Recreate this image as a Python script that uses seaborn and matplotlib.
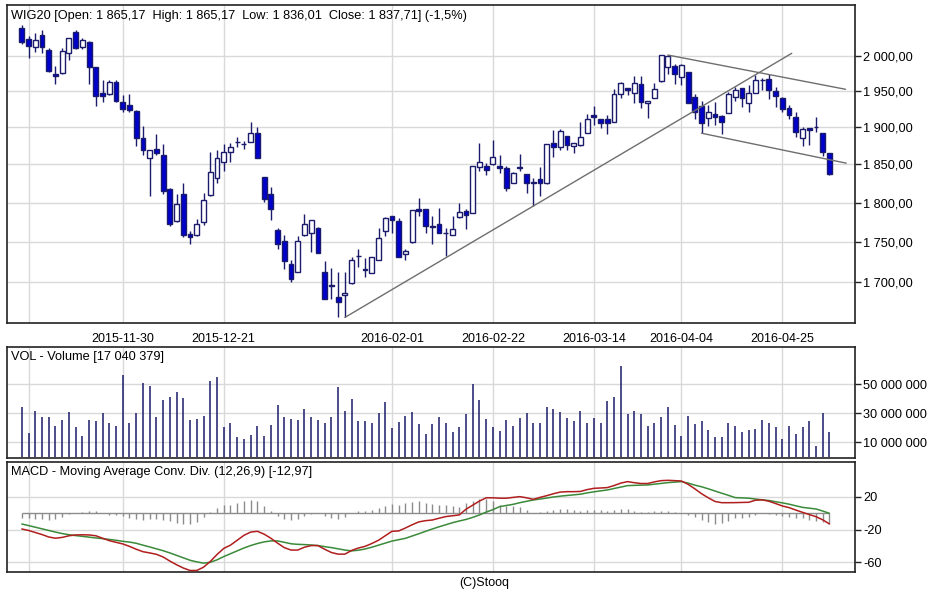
import numpy as np
import pandas as pd
import matplotlib
matplotlib.use("Agg")
import matplotlib.pyplot as plt
from matplotlib.ticker import FixedLocator, NullLocator, FuncFormatter
import seaborn as sns

# ---------------- data ----------------
opens = [2041.1, 2024.4, 2012.5, 2030.4, 2008.6, 1973.9, 1975.3, 2004.7, 2035.2, 2012.5,
         2019.7, 1983.8, 1947.5, 1946.5, 1963.4, 1935.3, 1930.8, 1922.9, 1885.2, 1859.1,
         1870.8, 1862.7, 1817.9, 1776.0, 1811.0, 1760.1, 1758.3, 1775.2, 1809.2, 1832.7,
         1853.8, 1867.1, 1879.5, 1877.5, 1880.0, 1892.0, 1833.2, 1811.4, 1764.6, 1750.8,
         1722.1, 1712.7, 1758.0, 1761.3, 1767.6, 1712.7, 1696.0, 1682.0, 1683.9, 1699.1,
         1731.8, 1716.0, 1711.1, 1727.3, 1763.3, 1782.3, 1776.8, 1734.4, 1749.6, 1791.7,
         1791.7, 1769.3, 1773.0, 1761.5, 1758.0, 1781.0, 1788.7, 1786.6, 1846.4, 1848.5,
         1850.4, 1848.5, 1845.9, 1826.1, 1845.5, 1837.5, 1826.5, 1830.6, 1825.4, 1878.4,
         1873.8, 1888.3, 1874.7, 1876.1, 1892.8, 1917.0, 1911.1, 1911.1, 1906.9, 1945.7,
         1954.1, 1947.9, 1960.2, 1934.0, 1940.1, 1963.7, 1984.7, 1986.1, 1970.5, 1977.5,
         1942.3, 1929.8, 1913.3, 1918.3, 1916.0, 1919.3, 1942.3, 1954.1, 1933.2, 1947.1,
         1965.5, 1967.2, 1950.3, 1940.1, 1926.2, 1914.6, 1885.2, 1899.6, 1900.5, 1892.0,
         1865.17]
highs = [2045.0, 2029.2, 2032.9, 2037.3, 2011.1, 1986.1, 2011.1, 2026.5, 2037.3, 2026.5,
         2021.6, 1984.7, 1965.4, 1965.4, 1965.4, 1944.7, 1946.1, 1923.9, 1902.3, 1869.4,
         1891.4, 1877.1, 1818.8, 1811.0, 1825.4, 1764.2, 1779.4, 1812.7, 1866.3, 1869.4,
         1877.1, 1878.4, 1887.3, 1881.9, 1907.8, 1900.1, 1833.2, 1820.9, 1767.6, 1758.0,
         1727.3, 1757.1, 1785.7, 1778.1, 1768.9, 1726.1, 1716.8, 1712.7, 1712.7, 1730.3,
         1740.5, 1729.1, 1731.0, 1767.6, 1781.5, 1782.3, 1780.3, 1741.4, 1790.8, 1805.9,
         1791.7, 1782.3, 1793.0, 1767.6, 1782.3, 1799.4, 1791.7, 1848.5, 1878.4, 1852.5,
         1882.9, 1862.7, 1848.1, 1840.6, 1864.1, 1837.5, 1831.9, 1847.2, 1877.1, 1896.4,
         1897.4, 1888.3, 1878.4, 1907.8, 1918.3, 1929.4, 1911.1, 1917.0, 1952.7, 1963.4,
         1954.1, 1971.4, 1971.4, 1936.7, 1961.1, 2001.4, 2001.4, 1988.1, 1988.1, 1977.5,
         1945.7, 1936.3, 1930.8, 1934.5, 1917.0, 1948.9, 1956.3, 1954.1, 1958.7, 1972.9,
         1969.0, 1973.9, 1956.3, 1942.3, 1930.8, 1921.5, 1900.9, 1899.6, 1914.6, 1892.4,
         1865.17]
lows = [2016.8, 1996.7, 2005.3, 2003.9, 1977.5, 1959.7, 1973.9, 1994.3, 2010.1, 2009.6,
        1959.7, 1929.8, 1934.5, 1944.7, 1934.5, 1920.7, 1920.7, 1875.2, 1862.7, 1807.9,
        1862.7, 1811.0, 1769.3, 1775.2, 1755.8, 1746.7, 1757.6, 1770.9, 1807.9, 1825.4,
        1841.5, 1853.8, 1873.8, 1870.8, 1880.0, 1859.1, 1800.2, 1777.2, 1740.5, 1716.0,
        1699.9, 1712.0, 1757.1, 1737.2, 1735.6, 1679.1, 1680.0, 1658.4, 1657.3, 1697.9,
        1718.1, 1706.7, 1710.8, 1727.3, 1757.1, 1761.3, 1730.3, 1727.3, 1748.8, 1783.2,
        1760.5, 1746.7, 1760.5, 1732.3, 1758.0, 1780.3, 1765.5, 1786.6, 1841.9, 1836.2,
        1849.4, 1838.5, 1814.4, 1825.4, 1841.9, 1812.3, 1796.0, 1807.9, 1824.0, 1859.7,
        1869.4, 1869.4, 1865.0, 1874.7, 1892.0, 1903.3, 1898.8, 1891.0, 1906.9, 1940.9,
        1944.7, 1934.0, 1926.2, 1912.4, 1940.1, 1963.4, 1974.3, 1959.7, 1958.7, 1933.6,
        1911.5, 1892.0, 1902.3, 1903.3, 1890.6, 1919.3, 1936.3, 1928.4, 1920.7, 1947.1,
        1951.7, 1939.1, 1928.4, 1921.5, 1911.5, 1887.3, 1875.2, 1876.1, 1893.3, 1861.4,
        1836.01]
closes = [2019.7, 2013.9, 2022.6, 2013.4, 1978.5, 1971.4, 2007.2, 2025.5, 2011.1, 2023.6,
          1983.8, 1943.7, 1943.7, 1963.4, 1936.7, 1925.2, 1923.4, 1886.0, 1869.4, 1869.0,
          1865.4, 1815.3, 1772.7, 1798.5, 1758.0, 1755.8, 1773.0, 1803.3, 1840.6, 1859.1,
          1866.3, 1873.4, 1880.0, 1877.0, 1892.8, 1859.1, 1804.6, 1792.1, 1746.7, 1726.1,
          1703.9, 1750.8, 1773.0, 1778.1, 1736.4, 1680.0, 1695.5, 1676.0, 1686.5, 1727.3,
          1732.3, 1714.4, 1730.3, 1755.1, 1780.3, 1778.1, 1731.5, 1738.4, 1789.9, 1788.7,
          1769.6, 1768.9, 1761.3, 1761.0, 1766.4, 1787.4, 1784.5, 1848.5, 1853.8, 1842.8,
          1859.7, 1845.1, 1818.8, 1839.3, 1846.0, 1825.4, 1826.0, 1825.4, 1877.1, 1873.8,
          1895.5, 1876.1, 1878.4, 1887.3, 1911.1, 1913.8, 1905.6, 1905.6, 1946.1, 1962.0,
          1951.7, 1962.0, 1935.3, 1936.7, 1952.7, 2001.4, 2000.4, 1973.6, 1987.1, 1933.6,
          1921.5, 1905.6, 1920.7, 1913.8, 1907.8, 1945.7, 1951.7, 1940.9, 1947.1, 1965.8,
          1966.0, 1951.7, 1943.7, 1925.2, 1917.0, 1893.3, 1897.8, 1896.4, 1901.0, 1866.5,
          1837.71]
# volume, millions of shares
volume_m = [34.6, 16.2, 31.8, 27.7, 27.7, 21.2, 25.4, 31.1, 20.3, 14.6,
            25.4, 24.5, 30.0, 23.5, 21.2, 56.4, 23.5, 30.4, 50.7, 48.8,
            27.7, 39.2, 41.5, 44.9, 40.8, 25.4, 26.1, 28.4, 52.5, 54.8,
            20.3, 23.5, 13.4, 12.3, 15.3, 21.2, 14.6, 21.9, 36.0, 27.7,
            26.1, 25.4, 32.7, 27.7, 25.4, 23.5, 27.7, 48.4, 31.8, 40.1,
            24.9, 24.9, 23.5, 30.4, 37.8, 19.6, 23.8, 28.4, 31.1, 22.6,
            15.7, 22.6, 27.7, 23.5, 17.3, 20.3, 29.5, 50.0, 39.2, 26.1,
            20.3, 18.0, 25.4, 21.2, 27.0, 30.0, 23.5, 23.5, 34.1, 32.7,
            31.1, 27.0, 24.7, 31.8, 23.1, 27.0, 23.5, 38.5, 41.5, 62.8,
            29.3, 31.8, 29.5, 21.2, 23.5, 27.7, 34.1, 21.9, 14.3, 28.1,
            22.6, 24.7, 18.5, 13.4, 13.4, 23.5, 21.2, 17.3, 18.5, 19.2,
            25.4, 23.5, 20.3, 12.3, 21.2, 15.5, 20.3, 24.7, 7.4, 30.4,
            17.040379]
macd = [-19.2, -21.0, -23.5, -26.0, -29.0, -30.5, -29.5, -27.5, -26.5, -26.3,
        -26.5, -27.5, -30.5, -33.5, -35.5, -37.5, -40.5, -44.0, -47.0, -48.5,
        -50.2, -53.5, -58.5, -63.0, -67.0, -70.0, -70.0, -66.0, -59.0, -50.5,
        -43.0, -39.0, -33.0, -27.0, -23.0, -22.0, -25.5, -30.5, -36.5, -42.0,
        -45.0, -45.0, -41.5, -39.5, -39.5, -44.0, -48.0, -50.0, -50.0, -45.5,
        -42.5, -40.5, -37.0, -33.0, -27.5, -22.0, -21.6, -18.0, -14.0, -10.5,
        -9.0, -8.2, -6.0, -4.0, -3.0, -2.0, 5.0, 10.0, 15.0, 19.0,
        19.0, 18.5, 18.5, 19.5, 20.4, 19.0, 17.1, 19.5, 21.6, 24.0,
        26.0, 26.5, 26.5, 26.8, 29.0, 30.6, 31.0, 31.5, 34.0, 37.0,
        38.8, 37.5, 36.5, 36.5, 38.5, 40.0, 40.4, 40.0, 39.6, 35.5,
        30.0, 24.0, 19.0, 14.5, 13.0, 13.0, 13.1, 13.3, 13.5, 16.0,
        16.5, 14.8, 12.0, 9.0, 7.0, 4.0, 1.2, -1.5, -4.1, -8.0,
        -12.97]
signal = [-13.1, -15.0, -17.0, -19.0, -21.0, -23.0, -24.8, -26.2, -27.3, -28.2,
          -29.2, -30.2, -31.0, -32.0, -33.0, -34.3, -35.2, -36.7, -39.0, -41.2,
          -43.5, -45.8, -48.5, -51.5, -54.5, -57.5, -59.5, -61.0, -60.0, -57.0,
          -53.0, -49.5, -46.0, -42.5, -39.5, -37.0, -35.0, -33.8, -33.8, -35.5,
          -37.3, -38.0, -38.3, -38.8, -39.5, -40.8, -42.0, -43.5, -45.0, -46.0,
          -45.2, -43.7, -41.5, -39.0, -36.5, -34.0, -32.3, -30.6, -27.8, -25.0,
          -22.0, -19.2, -16.5, -14.0, -11.5, -9.4, -7.5, -5.0, -2.0, 1.5,
          4.5, 8.2, 9.6, 11.0, 13.0, 14.7, 16.3, 17.5, 18.7, 20.0,
          21.0, 21.8, 22.6, 23.4, 25.0, 26.3, 27.5, 28.6, 30.4, 32.1,
          33.9, 34.2, 34.5, 34.7, 35.7, 36.6, 37.6, 38.2, 38.8, 37.0,
          34.5, 32.5, 30.0, 27.3, 24.6, 22.0, 19.2, 18.9, 18.5, 17.5,
          16.5, 15.7, 14.2, 12.8, 11.2, 9.2, 7.3, 6.3, 5.3, 2.8,
          0.0]
date_tick_pos = [1, 15, 30, 55, 70, 85, 98, 113]
date_tick_labels = ["", "2015-11-30", "2015-12-21", "2016-02-01", "2016-02-22",
                    "2016-03-14", "2016-04-04", "2016-04-25"]
price_ticks = [1700, 1750, 1800, 1850, 1900, 1950, 2000]
volume_ticks_m = [10, 30, 50]
macd_ticks = [-60, -20, 20]
# trend lines: (index, price) endpoints
trend_up = [(48, 1657.3), (114.4, 2003.9)]
channel_top = [(96, 2001.4), (122.4, 1952.7)]
channel_bottom = [(101, 1892.0), (122.5, 1851.7)]

# ---------------- style ----------------
sns.set_theme(style="white")
plt.rcParams["font.family"] = ["Liberation Sans", "DejaVu Sans"]
plt.rcParams["font.size"] = 9

W, H = 948, 593
fig = plt.figure(figsize=(W / 100, H / 100), dpi=100)
fig.patch.set_facecolor("white")

def px_axes(left, top, right, bottom):
    return fig.add_axes([left / W, 1 - bottom / H, (right - left) / W, (bottom - top) / H])

ax = px_axes(7, 5, 855, 323)
axv = px_axes(7, 347.3, 855, 458.3)
axm = px_axes(7, 461.7, 855, 571.7)

NAVY = "#1b1b6b"
BLUE = "#0000cc"
GRID = "#d9d9d9"
idx = np.arange(len(closes))
df = pd.DataFrame({"i": idx, "open": opens, "high": highs, "low": lows, "close": closes,
                   "vol": np.array(volume_m) * 1e6, "macd": macd, "signal": signal})
df["hist"] = df["macd"] - df["signal"]

xlim = (-2.2, 123.8)
TITLE_FS = 9.2

def fmt_num(v, dec):
    s = f"{v:,.{dec}f}"
    return s.replace(",", " ").replace(".", ",")

for a in (ax, axv, axm):
    a.set_facecolor("white")
    a.set_xlim(*xlim)
    a.set_xticks(date_tick_pos)
    a.grid(True, color=GRID, lw=1)
    a.set_axisbelow(True)
    for s in a.spines.values():
        s.set_color("#222222")
        s.set_linewidth(1.2)
    a.yaxis.tick_right()
    a.tick_params(axis="y", which="major", direction="out", length=4, width=1,
                  color="#222222", labelsize=9.2, pad=2, labelcolor="black")
    a.tick_params(axis="x", which="major", direction="out", length=4, width=1,
                  color="#222222", labelsize=9, pad=3, labelcolor="black")

# --- price panel (log scale) ---
ax.set_yscale("log")
ax.set_ylim(1650.7, 2074.7)
ax.yaxis.set_major_locator(FixedLocator(price_ticks))
ax.yaxis.set_minor_locator(NullLocator())
ax.yaxis.set_major_formatter(FuncFormatter(lambda v, p: fmt_num(v, 2)))
ax.set_xticklabels(date_tick_labels)

ax.vlines(df["i"], df["low"], df["high"], color=NAVY, lw=1, zorder=2)
up = df["close"] >= df["open"]
bot = np.minimum(df["open"], df["close"])
hgt = np.abs(df["close"] - df["open"])
ax.bar(df["i"][up], hgt[up], bottom=bot[up], width=0.72, color="white",
       edgecolor=NAVY, linewidth=1, zorder=3)
ax.bar(df["i"][~up], hgt[~up], bottom=bot[~up], width=0.72, color=BLUE,
       edgecolor=NAVY, linewidth=1, zorder=3)

for seg in (trend_up, channel_top, channel_bottom):
    ax.plot([seg[0][0], seg[1][0]], [seg[0][1], seg[1][1]], color="#6e6e6e", lw=1, zorder=4)

last = df.iloc[-1]
prev_close = df["close"].iloc[-2]
chg = (last["close"] / prev_close - 1) * 100
title = (f"WIG20 [Open: {fmt_num(last['open'], 2)}  High: {fmt_num(last['high'], 2)}  "
         f"Low: {fmt_num(last['low'], 2)}  Close: {fmt_num(last['close'], 2)}] "
         f"({fmt_num(chg, 1)}%)")
fig.text(11 / W, 1 - 16 / H, title, ha="left", va="center", fontsize=TITLE_FS, color="black")

# --- volume panel ---
axv.set_ylim(-1.0e6, 75.5e6)
axv.vlines(df["i"], 0, df["vol"], color=NAVY, lw=1.1, zorder=3)
axv.yaxis.set_major_locator(FixedLocator([v * 1e6 for v in volume_ticks_m]))
axv.yaxis.set_major_formatter(FuncFormatter(lambda v, p: fmt_num(v, 0)))
axv.set_xticklabels([])
axv.tick_params(axis="x", length=0)
fig.text(11 / W, 1 - 357 / H, f"VOL - Volume [{fmt_num(last['vol'], 0)}]",
         ha="left", va="center", fontsize=TITLE_FS, color="black")

# --- MACD panel ---
axm.set_ylim(-71.5, 63.2)
axm.hlines(0, 0, idx[-1], color="#8c8c8c", lw=1, zorder=2)
axm.vlines(df["i"], 0, df["hist"], color="#8c8c8c", lw=1, zorder=2)
sns.lineplot(data=df, x="i", y="signal", ax=axm, color="#3a8a3a", lw=1.1, zorder=4)
sns.lineplot(data=df, x="i", y="macd", ax=axm, color="#b01e1e", lw=1.1, zorder=5)
axm.set_xlabel("")
axm.set_ylabel("")
axm.set_xlim(*xlim)
axm.yaxis.set_major_locator(FixedLocator(macd_ticks))
axm.yaxis.set_major_formatter(FuncFormatter(lambda v, p: f"{v:.0f}"))
axm.set_xticklabels([])
axm.tick_params(axis="x", length=0)
fig.text(11 / W, 1 - 472 / H,
         f"MACD - Moving Average Conv. Div. (12,26,9) [{fmt_num(last['macd'], 2)}]",
         ha="left", va="center", fontsize=TITLE_FS, color="black")

fig.text(484 / W, 1 - 583 / H, "(C)Stooq", ha="center", va="center", fontsize=9, color="black")

fig.savefig("out.png", dpi=100, facecolor="white")
